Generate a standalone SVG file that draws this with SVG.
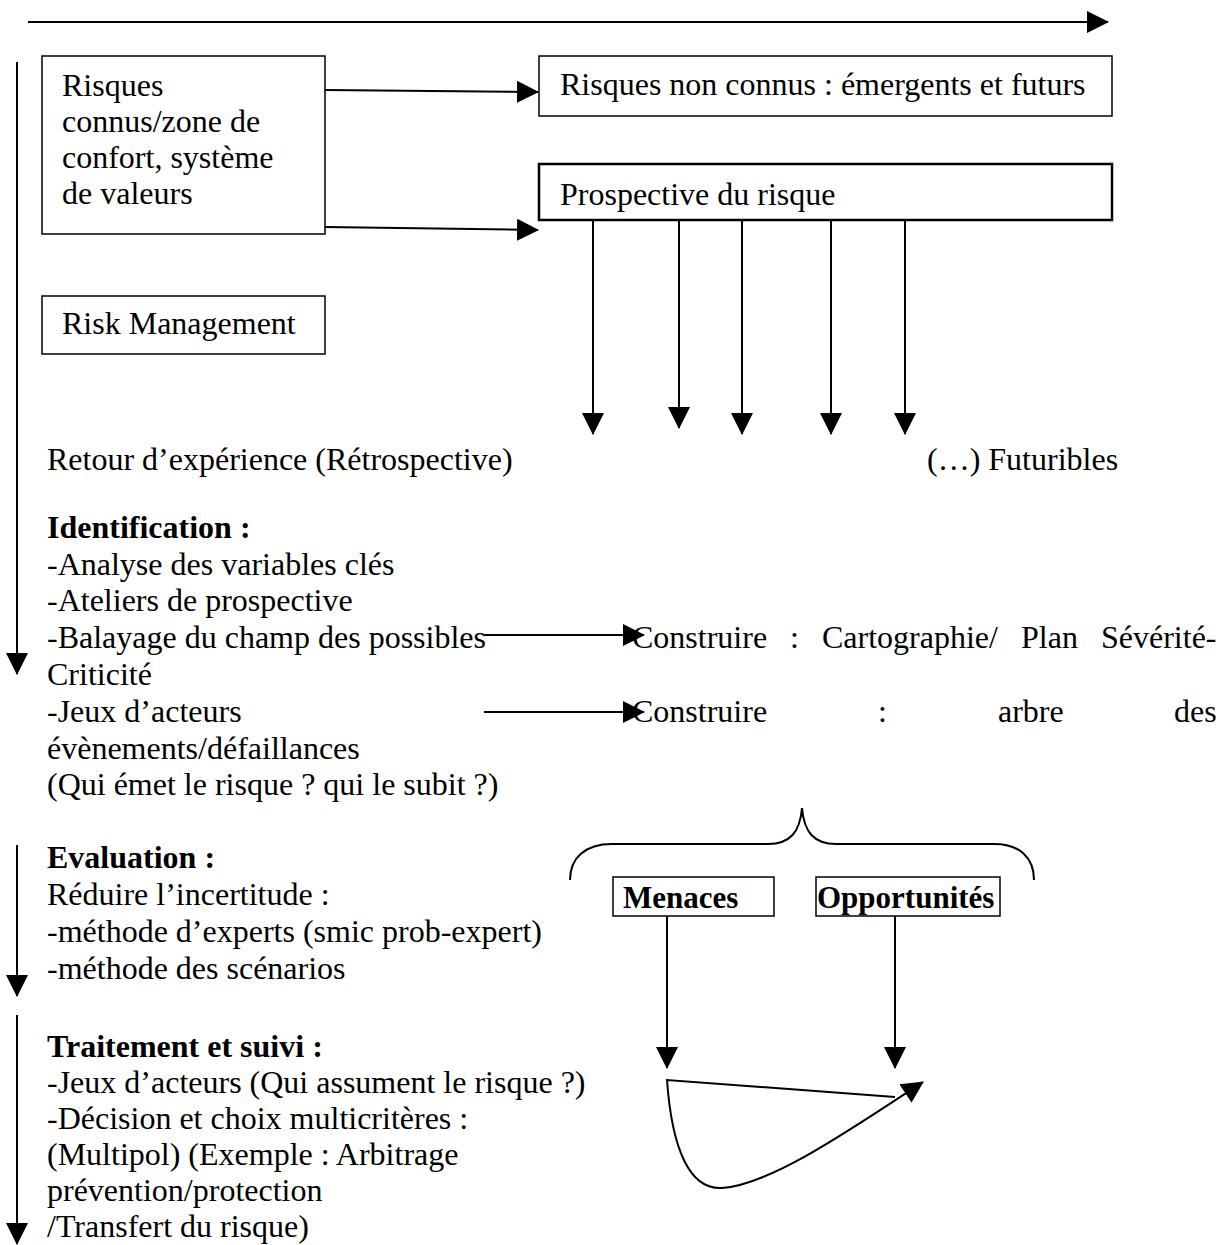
<svg xmlns="http://www.w3.org/2000/svg" width="1225" height="1245" viewBox="0 0 1225 1245">
  <style>
    text { font-family: "Liberation Serif", "Times New Roman", serif; font-size: 32px; fill: #000; }
    .b { font-weight: bold; }
    .lbl { font-size: 31px; font-weight: bold; }
    .box { fill: #fff; stroke: #000; stroke-width: 1.5; }
    .boxh { fill: #fff; stroke: #000; stroke-width: 2.5; }
    .ln { fill: none; stroke: #000; stroke-width: 2; }
  </style>
  <defs>
    <marker id="ah" markerUnits="userSpaceOnUse" markerWidth="22" markerHeight="22" viewBox="0 0 22 22" refX="21" refY="11" orient="auto">
      <path d="M0,0 L22,11 L0,22 Z" fill="#000"/>
    </marker>
  </defs>

  <rect width="1225" height="1245" fill="#fff"/>

  <!-- connectors -->
  <g id="connectors">
    <!-- time axis -->
    <line class="ln" x1="28" y1="22" x2="1108" y2="22" marker-end="url(#ah)"/>
    <!-- left process axis -->
    <line class="ln" x1="17" y1="62" x2="17" y2="674" marker-end="url(#ah)"/>
    <line class="ln" x1="17" y1="845" x2="17" y2="996" marker-end="url(#ah)"/>
    <line class="ln" x1="17" y1="1015" x2="17" y2="1244" marker-end="url(#ah)"/>
    <!-- known risks to unknown risks / foresight -->
    <line class="ln" x1="325" y1="90" x2="538" y2="92" marker-end="url(#ah)"/>
    <line class="ln" x1="325" y1="227" x2="538" y2="230" marker-end="url(#ah)"/>
    <!-- foresight branches -->
    <line class="ln" x1="593" y1="220" x2="593" y2="434" marker-end="url(#ah)"/>
    <line class="ln" x1="679" y1="220" x2="679" y2="428" marker-end="url(#ah)"/>
    <line class="ln" x1="742" y1="220" x2="742" y2="434" marker-end="url(#ah)"/>
    <line class="ln" x1="831" y1="220" x2="831" y2="434" marker-end="url(#ah)"/>
    <line class="ln" x1="905" y1="220" x2="905" y2="434" marker-end="url(#ah)"/>
    <!-- identification to construction -->
    <line class="ln" x1="484" y1="635" x2="644" y2="635" marker-end="url(#ah)"/>
    <line class="ln" x1="484" y1="712" x2="644" y2="712" marker-end="url(#ah)"/>
    <!-- brace -->
    <path class="ln" d="M570,880 C570,858 585,844 612,844 L768,844 C790,844 800,832 802,808 C804,832 814,844 836,844 L994,844 C1020,844 1034,858 1034,880"/>
    <!-- threats / opportunities -->
    <line class="ln" x1="667" y1="916" x2="667" y2="1068" marker-end="url(#ah)"/>
    <line class="ln" x1="895" y1="916" x2="895" y2="1068" marker-end="url(#ah)"/>
    <!-- loop -->
    <path class="ln" d="M895,1097 L667,1080 C672,1150 690,1190 722,1188 C770,1185 850,1130 923,1082" marker-end="url(#ah)"/>
  </g>

  <g id="known-risks">
    <rect class="box" x="42" y="56" width="283" height="178"/>
    <text x="62" y="96">Risques</text>
    <text x="62" y="132">connus/zone de</text>
    <text x="62" y="168">confort, système</text>
    <text x="62" y="204">de valeurs</text>
  </g>

  <g id="unknown-risks">
    <rect class="box" x="539" y="56" width="573" height="60"/>
    <text x="560" y="95">Risques non connus : émergents et futurs</text>
  </g>

  <g id="risk-foresight">
    <rect class="boxh" x="539" y="164" width="573" height="56"/>
    <text x="560" y="205">Prospective du risque</text>
  </g>

  <g id="risk-management">
    <rect class="box" x="42" y="296" width="283" height="58"/>
    <text x="62" y="334">Risk Management</text>
  </g>

  <g id="feedback">
    <text x="47" y="470">Retour d’expérience (Rétrospective)</text>
    <text x="927" y="470">(…) Futuribles</text>
  </g>

  <g id="identification">
    <text x="47" y="538" class="b">Identification :</text>
    <text x="47" y="575">-Analyse des variables clés</text>
    <text x="47" y="611">-Ateliers de prospective</text>
    <text x="47" y="648">-Balayage du champ des possibles</text>
    <text x="47" y="685">Criticité</text>
    <text x="47" y="722">-Jeux d’acteurs</text>
    <text x="47" y="759">évènements/défaillances</text>
    <text x="47" y="795">(Qui émet le risque ? qui le subit ?)</text>
  </g>

  <g id="construction">
    <text x="632" y="648">Construire</text>
    <text x="790" y="648">:</text>
    <text x="822" y="648">Cartographie/</text>
    <text x="1021" y="648">Plan</text>
    <text x="1101" y="648">Sévérité-</text>
    <text x="632" y="722">Construire</text>
    <text x="878" y="722">:</text>
    <text x="998" y="722">arbre</text>
    <text x="1174" y="722">des</text>
  </g>

  <g id="evaluation">
    <text x="47" y="868" class="b">Evaluation :</text>
    <text x="47" y="905">Réduire l’incertitude :</text>
    <text x="47" y="942">-méthode d’experts (smic prob-expert)</text>
    <text x="47" y="979">-méthode des scénarios</text>
  </g>

  <g id="treatment">
    <text x="47" y="1057" class="b">Traitement et suivi :</text>
    <text x="47" y="1093">-Jeux d’acteurs (Qui assument le risque ?)</text>
    <text x="47" y="1129">-Décision et choix multicritères :</text>
    <text x="47" y="1165">(Multipol) (Exemple : Arbitrage</text>
    <text x="47" y="1201">prévention/protection</text>
    <text x="47" y="1237">/Transfert du risque)</text>
  </g>

  <g id="threats">
    <rect class="box" x="613" y="877" width="161" height="39"/>
    <text x="623" y="908" class="lbl">Menaces</text>
  </g>

  <g id="opportunities">
    <rect class="box" x="816" y="877" width="184" height="39"/>
    <text x="817" y="908" class="lbl">Opportunités</text>
  </g>
</svg>
